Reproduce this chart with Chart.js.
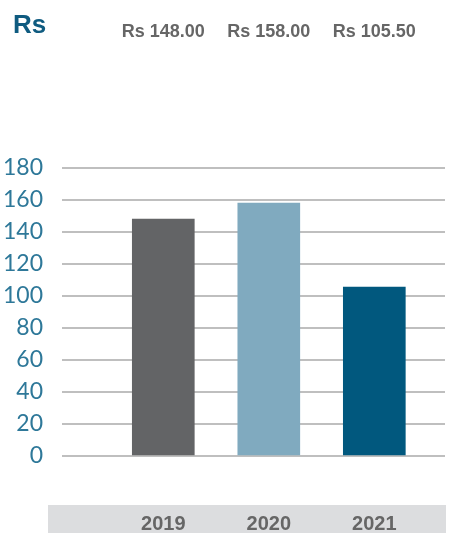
<!DOCTYPE html>
<html>
<head>
<meta charset="utf-8">
<title>Rs</title>
<script src="https://cdn.jsdelivr.net/npm/chart.js@4/dist/chart.umd.min.js"></script>
<style>
    html, body { margin: 0; padding: 0; background: #fff; }
    canvas { display: block; }
</style>
</head>
<body>
<canvas id="chart" width="468" height="533"></canvas>
<script>
(function () {
    'use strict';

    const unit = 'Rs';
    const years = ['2019', '2020', '2021'];
    const values = [148, 158, 105.5];
    const valueLabels = ['Rs 148.00', 'Rs 158.00', 'Rs 105.50'];
    const barColors = ['#636466', '#80aabf', '#01587e'];

    const labelFont = '"Liberation Sans", Arial, sans-serif';

    // bande grise sous les barres, derrière les années
    const yearBand = {
        id: 'yearBand',
        beforeDraw(chart) {
            const ctx = chart.ctx;
            const area = chart.chartArea;
            const top = area.bottom + 49;
            ctx.save();
            ctx.fillStyle = '#dcdddf';
            ctx.fillRect(area.left - 14, top, area.right - area.left + 15, chart.height - top);
            ctx.restore();
        }
    };

    // unité à gauche et montants au-dessus de chaque barre
    const headerLabels = {
        id: 'headerLabels',
        afterDraw(chart) {
            const ctx = chart.ctx;
            const x = chart.scales.x;
            ctx.save();
            ctx.textBaseline = 'middle';
            ctx.textAlign = 'left';
            ctx.fillStyle = '#0f5b80';
            ctx.font = 'bold 26px ' + labelFont;
            ctx.fillText(unit, 13, 26);
            ctx.textAlign = 'center';
            ctx.fillStyle = '#666666';
            ctx.font = 'bold 18px ' + labelFont;
            valueLabels.forEach(function (text, i) {
                ctx.fillText(text, x.getPixelForValue(i), 32);
            });
            ctx.restore();
        }
    };

    new Chart(document.getElementById('chart'), {
        type: 'bar',
        data: {
            datasets: [{
                data: values.map(function (v, i) { return { x: i, y: v }; }),
                backgroundColor: barColors,
                borderWidth: 0,
                barThickness: 62
            }]
        },
        options: {
            responsive: false,
            animation: false,
            layout: { padding: { top: 168, right: 23, bottom: 0, left: 0 } },
            plugins: {
                legend: { display: false },
                tooltip: { enabled: false }
            },
            scales: {
                x: {
                    type: 'linear',
                    offset: false,
                    min: -0.96,
                    max: 2.67,
                    afterBuildTicks(scale) {
                        scale.ticks = years.map(function (_, i) { return { value: i }; });
                    },
                    afterFit(scale) { scale.height = 77; },
                    grid: { display: false, drawTicks: false, offset: false },
                    border: { display: false },
                    ticks: {
                        callback: function (v) { return years[v]; },
                        color: '#666666',
                        font: { family: labelFont, size: 20, weight: 'bold' },
                        padding: 56,
                        maxRotation: 0
                    }
                },
                y: {
                    min: 0,
                    max: 180,
                    afterFit(scale) { scale.width = 62; },
                    grid: { color: '#bfbfbf', lineWidth: 2, drawTicks: false },
                    border: { display: false },
                    ticks: {
                        stepSize: 20,
                        color: '#2e7899',
                        font: { family: 'Lato, sans-serif', size: 23, weight: 400 },
                        padding: 19
                    }
                }
            }
        },
        plugins: [yearBand, headerLabels]
    });
})();
</script>
</body>
</html>
